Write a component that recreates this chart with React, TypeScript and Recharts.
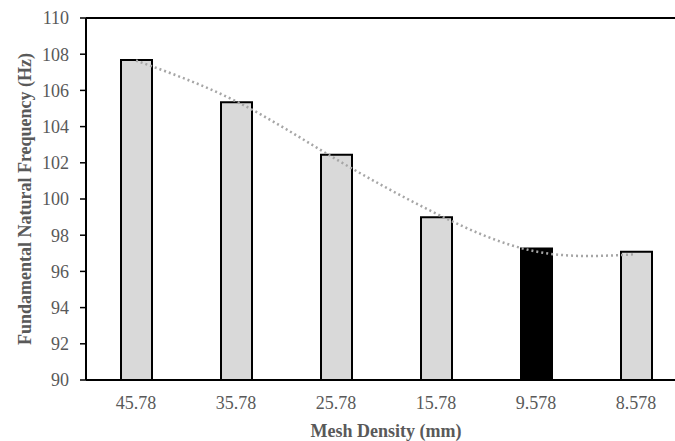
import React from "react";
import { ComposedChart, Bar, Line, Cell, XAxis, YAxis, Label, ReferenceLine } from "recharts";

const meshSizes = ["45.78", "35.78", "25.78", "15.78", "9.578", "8.578"];
const frequencies = [107.68, 105.35, 102.45, 98.99, 97.27, 97.08];
const trendValues = [107.65, 105.4, 102.2, 99.2, 97.1, 96.95];
const yTicks = [90, 92, 94, 96, 98, 100, 102, 104, 106, 108, 110];
const selectedMesh = "9.578";

const data = meshSizes.map((mesh, i) => ({
  mesh,
  freq: frequencies[i],
  trend: trendValues[i],
}));

const font = "'Liberation Serif', 'Times New Roman', serif";
const grey = "#595959";

const MeshChart = () => {
  return (
    <div style={{ position: "fixed", left: 0, top: 0, width: 675, height: 441, overflow: "hidden", background: "#fff" }}>
      <ComposedChart
        width={700}
        height={441}
        data={data}
        margin={{ top: 18, right: 14, left: 0, bottom: 0 }}
        style={{ fontFamily: font }}
      >
        <XAxis
          dataKey="mesh"
          height={61}
          tickLine={false}
          tickSize={0}
          tickMargin={16}
          axisLine={{ stroke: "#000", strokeWidth: 2 }}
          tick={{ fill: grey, fontSize: 18, fontFamily: font }}
        >
          <Label
            value="Mesh Density (mm)"
            position="insideBottom"
            offset={4}
            style={{ fill: grey, fontSize: 18, fontWeight: "bold", fontFamily: font }}
          />
        </XAxis>
        <YAxis
          width={86}
          domain={[90, 110]}
          ticks={yTicks}
          interval={0}
          tickSize={6}
          tickMargin={11}
          axisLine={{ stroke: "#000", strokeWidth: 2 }}
          tickLine={{ stroke: "#000", strokeWidth: 1.5 }}
          tick={{ fill: grey, fontSize: 18, fontFamily: font }}
        >
          <Label
            value="Fundamental Natural Frequency (Hz)"
            angle={-90}
            position="insideLeft"
            offset={25}
            textAnchor="middle"
            style={{ fill: grey, fontSize: 18, fontWeight: "bold", fontFamily: font, textAnchor: "middle" }}
          />
        </YAxis>
        <ReferenceLine y={110} stroke="#000" strokeWidth={2} />
        <Bar dataKey="freq" barSize={31} stroke="#000" strokeWidth={2} isAnimationActive={false}>
          {data.map((d) => (
            <Cell key={d.mesh} fill={d.mesh === selectedMesh ? "#000" : "#d9d9d9"} />
          ))}
        </Bar>
        <Line
          dataKey="trend"
          type="natural"
          stroke="#a6a6a6"
          strokeWidth={2.5}
          strokeDasharray="2 3"
          dot={false}
          isAnimationActive={false}
        />
      </ComposedChart>
    </div>
  );
};

export default MeshChart;
